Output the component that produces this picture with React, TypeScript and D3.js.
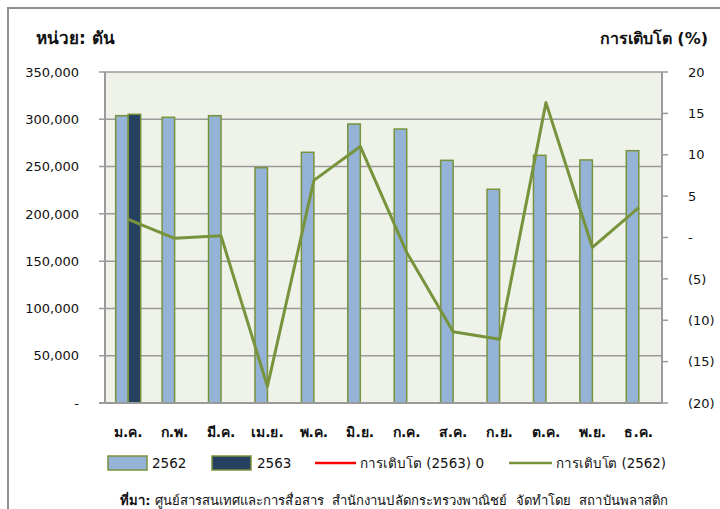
import * as d3 from "d3";

const months = ["ม.ค.", "ก.พ.", "มี.ค.", "เม.ย.", "พ.ค.", "มิ.ย.", "ก.ค.", "ส.ค.", "ก.ย.", "ต.ค.", "พ.ย.", "ธ.ค."];
const tons2562 = [303800, 302100, 303800, 248800, 265100, 295000, 289700, 256600, 226000, 261900, 257000, 266800];
const tons2563 = [305300, null, null, null, null, null, null, null, null, null, null, null];
const growth2562 = [2.2, -0.1, 0.2, -18.0, 6.9, 11.0, -1.8, -11.4, -12.3, 16.3, -1.2, 3.6];
const leftTicks = [0, 50000, 100000, 150000, 200000, 250000, 300000, 350000];
const rightTicks = [-20, -15, -10, -5, 0, 5, 10, 15, 20];

const FONT = "Tahoma, 'DejaVu Sans', 'Noto Sans', sans-serif";
const GRID = "#9a9a9a";
const OLIVE = "#77933C";

export default function App() {
  const left = 105;
  const right = 662;
  const top = 72;
  const bottom = 403;

  const x = d3.scaleBand<string>().domain(months).range([left, right]).padding(0);
  const sub = d3.scaleBand<string>().domain(["2562", "2563"]).range([-12.5, 12.5]).padding(0);
  const y = d3.scaleLinear().domain([0, 350000]).range([bottom, top]);
  const y2 = d3.scaleLinear().domain([-20, 20]).range([bottom, top]);

  const fmtLeft = (v: number) => (v === 0 ? "-" : d3.format(",")(v));
  const fmtRight = (v: number) => (v === 0 ? "-" : v < 0 ? `(${-v})` : `${v}`);

  const cx = (m: string) => (x(m) ?? 0) + x.bandwidth() / 2;

  const line = d3
    .line<number>()
    .x((_, i) => cx(months[i]))
    .y((d) => y2(d));

  const bw = sub.bandwidth();

  return (
    <svg
      width={720}
      height={509}
      style={{ position: "absolute", left: 0, top: 0, fontFamily: FONT }}
    >
      <rect x={0} y={0} width={720} height={509} fill="#fff" />
      <rect x={8} y={8} width={714} height={510} fill="none" stroke="#8f8f8f" strokeWidth={2} />

      <rect x={left} y={top} width={right - left} height={bottom - top} fill="#EFF2E9" />

      {leftTicks.map((t) => (
        <g key={"l" + t}>
          <line x1={left - 6} x2={right} y1={y(t)} y2={y(t)} stroke={GRID} strokeWidth={1.5} />
          <text x={79} y={y(t)} dy="0.36em" textAnchor="end" fontSize={13} fill="#111">
            {fmtLeft(t)}
          </text>
        </g>
      ))}
      {rightTicks.map((t) => (
        <g key={"r" + t}>
          <line x1={right} x2={right + 6} y1={y2(t)} y2={y2(t)} stroke={GRID} strokeWidth={1.5} />
          <text x={688} y={y2(t)} dy="0.36em" textAnchor="start" fontSize={13} fill="#111">
            {fmtRight(t)}
          </text>
        </g>
      ))}
      <line x1={left} x2={left} y1={top} y2={bottom} stroke={GRID} strokeWidth={2} />
      <line x1={right} x2={right} y1={top} y2={bottom} stroke={GRID} strokeWidth={2} />

      {months.map((m, i) => (
        <g key={m}>
          <rect
            x={cx(m) + (sub("2562") ?? 0)}
            y={y(tons2562[i])}
            width={bw}
            height={bottom - y(tons2562[i])}
            fill="#95B3D7"
            stroke={OLIVE}
            strokeWidth={1.5}
          />
          {tons2563[i] != null && (
            <rect
              x={cx(m) + (sub("2563") ?? 0)}
              y={y(tons2563[i] as number)}
              width={bw}
              height={bottom - y(tons2563[i] as number)}
              fill="#254061"
              stroke={OLIVE}
              strokeWidth={1.5}
            />
          )}
          <text x={cx(m)} y={437} textAnchor="middle" fontSize={14} fontWeight="bold" fill="#111">
            {m}
          </text>
        </g>
      ))}
      <line x1={left - 6} x2={right} y1={bottom} y2={bottom} stroke={GRID} strokeWidth={2} />

      <path d={line(growth2562) ?? ""} fill="none" stroke={OLIVE} strokeWidth={3} strokeLinejoin="round" />

      <text x={36} y={44} fontSize={17} fontWeight="bold" fill="#111">
        หน่วย: ตัน
      </text>
      <text x={708} y={44} fontSize={16} fontWeight="bold" fill="#111" textAnchor="end">
        การเติบโต (%)
      </text>

      <g fontSize={13.5} fill="#111">
        <rect x={108} y={456} width={39} height={14} fill="#95B3D7" stroke={OLIVE} strokeWidth={1.5} />
        <text x={152} y={468}>2562</text>
        <rect x={212} y={456} width={39} height={14} fill="#254061" stroke={OLIVE} strokeWidth={1.5} />
        <text x={257} y={468}>2563</text>
        <line x1={315} x2={356} y1={463} y2={463} stroke="#FF0000" strokeWidth={2.5} />
        <text x={360} y={468} textLength={124} lengthAdjust="spacingAndGlyphs">การเติบโต (2563) 0</text>
        <line x1={509} x2={552} y1={463} y2={463} stroke={OLIVE} strokeWidth={2.5} />
        <text x={556} y={468} textLength={110} lengthAdjust="spacingAndGlyphs">การเติบโต (2562)</text>
      </g>

      <text x={120} y={505} fontSize={13} fill="#111" style={{ whiteSpace: "pre" }} textLength={548} lengthAdjust="spacingAndGlyphs">
        <tspan fontWeight="bold">ที่มา:</tspan>
        <tspan>{" ศูนย์สารสนเทศและการสื่อสาร  สำนักงานปลัดกระทรวงพาณิชย์  จัดทำโดย  สถาบันพลาสติก"}</tspan>
      </text>
    </svg>
  );
}
